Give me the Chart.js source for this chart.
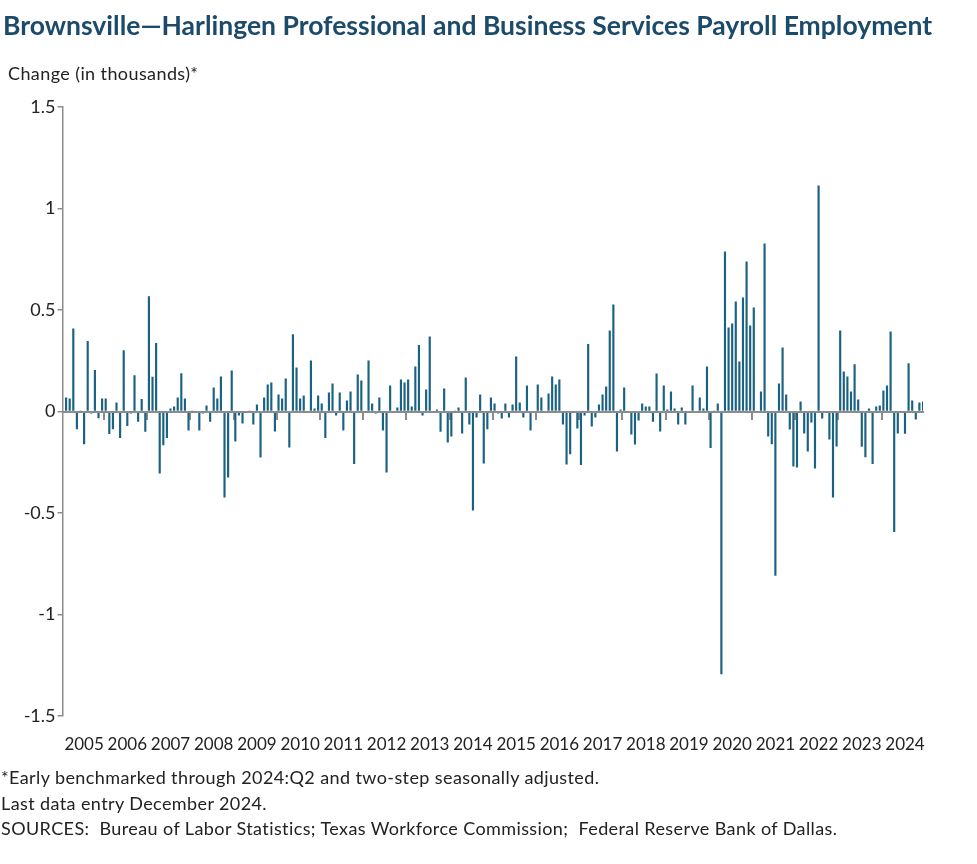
<!DOCTYPE html>
<html>
<head>
<meta charset="utf-8">
<script src="https://cdn.jsdelivr.net/npm/chart.js@4.4.1/dist/chart.umd.min.js"></script>
<style>
  body { margin: 0; background: #fff; font-family: Lato, sans-serif; }
  #wrap { position: relative; width: 977px; height: 864px; }
  #title { position: absolute; left: 3px; top: 9px; font-weight: bold; font-size: 26.5px; line-height: 32px; color: #1b4a6b; white-space: nowrap; }
  #ylabel { position: absolute; left: 8px; top: 62px; font-size: 18px; letter-spacing: 0.4px; color: #222; }
  #notes { position: absolute; left: 1px; top: 765px; font-size: 18px; letter-spacing: 0.4px; line-height: 25.5px; color: #222; white-space: pre; }
  canvas { position: absolute; left: 0; top: 0; }
</style>
</head>
<body>
<div id="wrap">
  <canvas id="payrollChart" width="977" height="864"></canvas>
  <div id="title">Brownsville—Harlingen Professional and Business Services Payroll Employment</div>
  <div id="ylabel">Change (in thousands)*</div>
  <div id="notes">*Early benchmarked through 2024:Q2 and two-step seasonally adjusted.
Last data entry December 2024.
SOURCES:  Bureau of Labor Statistics; Texas Workforce Commission;  Federal Reserve Bank of Dallas.</div>
</div>
<script>
const years = [2005, 2006, 2007, 2008, 2009, 2010, 2011, 2012, 2013, 2014,
  2015, 2016, 2017, 2018, 2019, 2020, 2021, 2022, 2023, 2024];
const months = ["Jan", "Feb", "Mar", "Apr", "May", "Jun", "Jul", "Aug", "Sep", "Oct", "Nov", "Dec"];
const categories = years.flatMap(y => months.map(m => m + " " + y));

// monthly change, thousands (one row per year)
const changes = [
  0, 0.069, 0.064, 0.409, -0.087, 0.005, -0.161, 0.347, -0.01, 0.204, -0.033, 0.064,
  0.064, -0.111, -0.087, 0.044, -0.131, 0.302, -0.072, -0.01, 0.179, -0.05, 0.061, -0.10,
  0.568, 0.171, 0.337, -0.305, -0.166, -0.131, 0.015, 0.025, 0.069, 0.189, 0.064, -0.094,
  0.005, 0, -0.094, -0.01, 0.03, -0.05, 0.118, 0.064, 0.172, -0.424, -0.325, 0.202,
  -0.148, -0.02, -0.059, 0, 0.005, -0.064, 0.034, -0.227, 0.069, 0.133, 0.143, -0.099,
  0.084, 0.064, 0.163, -0.177, 0.381, 0.217, 0.064, 0.079, 0, 0.251, 0.015, 0.079,
  0.039, -0.131, 0.094, 0.138, -0.02, 0.094, -0.094, 0.054, 0.099, -0.259, 0.182, 0.153,
  0, 0.251, 0.039, -0.01, 0.069, -0.094, -0.300, 0.128, 0, 0.020, 0.158, 0.143,
  0.158, 0.025, 0.222, 0.327, -0.02, 0.108, 0.370, 0, 0.01, -0.10, 0.113, -0.153,
  -0.123, 0.005, 0.02, -0.108, 0.167, -0.064, -0.488, -0.03, 0.084, -0.256, -0.087, 0.069,
  0.039, -0.01, -0.035, 0.039, -0.03, 0.034, 0.271, 0.044, -0.03, 0.128, -0.094, 0,
  0.133, 0.069, 0, 0.089, 0.172, 0.133, 0.158, -0.064, -0.261, -0.21, 0, -0.084,
  -0.264, -0.02, 0.332, -0.074, -0.03, 0.034, 0.084, 0.123, 0.399, 0.527, -0.197, 0.01,
  0.118, 0, -0.113, -0.163, -0.044, 0.039, 0.025, 0.025, -0.05, 0.187, -0.099, 0.128,
  0.01, 0.099, 0.015, -0.064, 0.02, -0.064, 0, 0.128, 0, 0.069, 0.015, 0.222,
  -0.18, 0.005, 0.039, -1.294, 0.788, 0.414, 0.434, 0.542, 0.246, 0.562, 0.739, 0.424,
  0.512, 0, 0.099, 0.828, -0.123, -0.161, -0.809, 0.138, 0.315, 0.084, -0.089, -0.271,
  -0.276, 0.049, -0.108, -0.197, -0.054, -0.281, 1.113, -0.034, 0, -0.138, -0.424, -0.172,
  0.399, 0.197, 0.172, 0.099, 0.233, 0.059, -0.174, -0.225, 0.015, -0.259, 0.025, 0.030,
  0.103, 0.128, 0.394, -0.594, -0.108, 0, -0.11, 0.238, 0.054, -0.039, 0.044, 0.049
];

const axisGray = "#8c8c8c";
const textColor = "#222";

const ctx = document.getElementById("payrollChart").getContext("2d");

const payrollChart = new Chart(ctx, {
  type: "bar",
  data: {
    labels: categories,
    datasets: [
      {
        label: "Change",
        data: changes,
        backgroundColor: "#1a6282",
        borderWidth: 0,
        barPercentage: 0.6,
        categoryPercentage: 1,
      },
    ],
  },
  options: {
    responsive: false,
    animation: false,
    layout: {
      padding: { top: 107, right: 54, bottom: 108, left: 0 },
    },
    plugins: {
      legend: { display: false },
      tooltip: { enabled: false },
    },
    scales: {
      x: {
        type: "category",
        offset: false,
        position: { y: 0 },
        ticks: { display: false },
        grid: {
          drawOnChartArea: false,
          tickLength: 7,
          lineWidth: 2,
          color: (c) => (c.index % 12 === 0 ? axisGray : "rgba(0,0,0,0)"),
        },
        border: { color: axisGray, width: 2, z: 1 },
      },
      x2: {
        type: "category",
        labels: categories,
        offset: false,
        position: "bottom",
        grid: { display: false, drawTicks: false },
        border: { display: false },
        ticks: {
          autoSkip: false,
          maxRotation: 0,
          minRotation: 0,
          padding: 18,
          color: textColor,
          font: { size: 17, family: "Lato" },
          callback: (v, i) => (i % 12 === 6 ? String(years[Math.floor(i / 12)]) : ""),
        },
        afterFit: (s) => { s.height = 40; },
      },
      y: {
        min: -1.5,
        max: 1.5,
        ticks: {
          stepSize: 0.5,
          padding: 2,
          color: textColor,
          font: { size: 18, family: "Lato" },
          callback: (v) => String(v),
        },
        grid: { drawOnChartArea: false, tickLength: 5, color: axisGray, lineWidth: 1.5 },
        border: { color: axisGray, width: 1.5 },
        afterFit: (s) => { s.width = 62.5; },
      },
    },
  },
});
</script>
</body>
</html>
